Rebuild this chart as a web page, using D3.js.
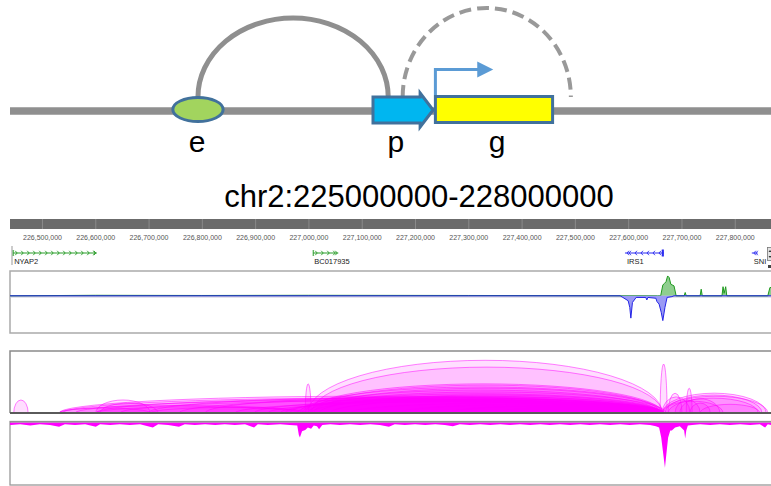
<!DOCTYPE html>
<html>
<head>
<meta charset="utf-8">
<script src="https://cdn.jsdelivr.net/npm/d3@7"></script>
<style>
  html, body { margin: 0; padding: 0; background: #fff; }
  svg { display: block; font-family: "Liberation Sans", Arial, Helvetica, sans-serif; }
</style>
</head>
<body>
<svg id="chart" width="771" height="486"></svg>
<script>
// ---------- data ----------
const regionLabel = "chr2:225000000-228000000";

// enhancer / promoter / gene schematic, positions on a nominal 0-1000 axis
const schematicElements = [
  { label: "e", start: 212, end: 282, labelAt: 246 },
  { label: "p", start: 477, end: 556, labelAt: 507 },
  { label: "g", start: 559, end: 713, labelAt: 640 }
];
const activeLoop = [247, 497];      // e -> p contact (solid)
const potentialLoop = [516, 737];   // p -> g contact (dashed)
const tssArrow = [559, 635];

// genome browser window (kb on chr2)
const viewKb = [226440, 227868];
const rulerTicksKb = [226500, 226600, 226700, 226800, 226900, 227000, 227100,
                      227200, 227300, 227400, 227500, 227600, 227700, 227800];

const genes = [
  { name: "NYAP2",    start: 226446, end: 226603, strand: "+", color: "#2a9d2a" },
  { name: "BC017935", start: 227009, end: 227056, strand: "+", color: "#2a9d2a" },
  { name: "IRS1",     start: 227594, end: 227667, strand: "-", color: "#2b2bf0", exon: [227663, 227667] },
  { name: "SNI",      start: 227832, end: 227843, strand: "-", color: "#2b2bf0" }
];

// stranded signal, [kb, value]
const plusSignal = [
  [226440, 0], [226600, 0.6], [226800, 0.4], [227000, 0.6], [227300, 0.4], [227655, 0],
  [227661, 0], [227665, 13], [227668, 15], [227671, 17], [227674, 24], [227677, 22],
  [227680, 14], [227686, 12], [227690, 0], [227705, 0], [227707, 4], [227709, 0],
  [227735, 0], [227737, 8], [227739, 0], [227776, 0], [227778, 11], [227780, 3],
  [227783, 11], [227785, 0], [227862, 0], [227866, 10], [227868, 10]
];
const minusSignal = [
  [226440, 0], [227585, 0], [227590, -2], [227600, -6], [227603, -14], [227605, -27],
  [227608, -8], [227615, -2], [227633, -2], [227635, -5], [227637, -2], [227652, -3],
  [227654, -7], [227658, -10], [227662, -20], [227665, -30], [227669, -14],
  [227673, -2], [227682, -1], [227686, 0], [227868, 0]
];

// chromatin loops: [anchor1 kb, anchor2 kb, score]
const loops = [
  [226999, 227664, 85], [227006, 227664, 74], [226994, 227664, 47], [227003, 227660, 45],
  [226984, 227667, 42], [227010, 227664, 40], [226988, 227658, 37], [226999, 227671, 34],
  [226979, 227664, 31], [227020, 227660, 29], [226965, 227665, 27], [227005, 227664, 26],
  [226956, 227664, 24], [227041, 227662, 23], [226947, 227669, 22],
  [226532, 227664, 27], [226538, 227662, 24], [226562, 227667, 21], [226601, 227664, 23],
  [226646, 227664, 20], [226699, 227664, 25], [226757, 227660, 22], [226806, 227664, 26],
  [226862, 227665, 18], [226898, 227664, 21], [226924, 227664, 19],
  [227078, 227664, 16], [227172, 227664, 14], [227266, 227664, 12], [227360, 227660, 10],
  [227453, 227664, 9], [227547, 227664, 8],
  [226447, 226474, 21], [226601, 226703, 21], [226609, 226718, 16], [226532, 226994, 12],
  [226601, 226984, 10], [226703, 226999, 9], [226532, 226703, 8],
  [226994, 227005, 47], [227660, 227673, 79], [227709, 227720, 40],
  [227664, 227859, 32], [227675, 227844, 24], [227669, 227851, 29], [227664, 227862, 27],
  [227675, 227701, 32], [227688, 227735, 21], [227665, 227778, 19], [227697, 227772, 23],
  [227716, 227754, 16], [227664, 227716, 26], [227735, 227847, 14]
];

// coverage (drawn downward), [kb, value]
const coverage = [
  [226440, 4], [226442, 4], [226459, 3], [226478, 5], [226496, 3], [226515, 4], [226532, 7],
  [226543, 3], [226562, 4], [226581, 3], [226601, 7], [226609, 3], [226628, 4], [226646, 3],
  [226665, 4], [226684, 3], [226708, 8], [226718, 3], [226737, 4], [226757, 7], [226768, 3],
  [226787, 4], [226806, 3], [226825, 4], [226843, 3], [226862, 4], [226881, 3], [226898, 8],
  [226905, 3], [226924, 4], [226947, 3], [226965, 4], [226979, 5], [226982, 20], [226984, 24],
  [226988, 14], [226994, 12], [226999, 8], [227005, 10], [227010, 5], [227016, 6], [227020, 11],
  [227026, 4], [227041, 3], [227059, 4], [227078, 3], [227097, 4], [227116, 3], [227134, 4],
  [227151, 7], [227162, 3], [227181, 4], [227200, 3], [227219, 4], [227238, 3], [227256, 4],
  [227271, 6], [227284, 3], [227303, 4], [227322, 3], [227341, 4], [227360, 3], [227378, 4],
  [227397, 3], [227416, 4], [227435, 3], [227453, 4], [227472, 3], [227491, 4], [227510, 3],
  [227528, 4], [227547, 3], [227566, 4], [227585, 3], [227603, 4], [227622, 3], [227641, 4],
  [227652, 6], [227658, 8], [227662, 24], [227665, 45], [227669, 73], [227673, 40],
  [227675, 24], [227679, 13], [227682, 13], [227688, 8], [227697, 6], [227705, 13],
  [227707, 26], [227709, 13], [227712, 5], [227720, 4], [227735, 3], [227754, 4], [227772, 3],
  [227791, 4], [227810, 3], [227829, 4], [227847, 3], [227857, 8], [227862, 3], [227868, 4]
];

// ---------- drawing ----------
const svg = d3.select("#chart");
const W = 771;

// schematic
const sx = d3.scaleLinear().domain([0, 1000]).range([10, 771]);
const schem = svg.append("g");
const lineY = 111;
const elemTop = 97, elemBottom = 123;
const outline = "#41719c";

schem.append("line")
  .attr("x1", sx(0)).attr("x2", sx(1000)).attr("y1", lineY).attr("y2", lineY)
  .attr("stroke", "#8f8f8f").attr("stroke-width", 7.5);

function loopPath(a, b, h) {
  const x1 = sx(a), x2 = sx(b);
  return `M${x1},${elemTop} A${(x2 - x1) / 2},${h} 0 0 1 ${x2},${elemTop}`;
}
schem.append("path").attr("d", loopPath(activeLoop[0], activeLoop[1], 79))
  .attr("fill", "none").attr("stroke", "#8f8f8f").attr("stroke-width", 5);
schem.append("path").attr("d", loopPath(potentialLoop[0], potentialLoop[1], 89))
  .attr("fill", "none").attr("stroke", "#999").attr("stroke-width", 4)
  .attr("stroke-dasharray", "12,6");

const [eEl, pEl, gEl] = schematicElements;
// enhancer
schem.append("ellipse")
  .attr("cx", (sx(eEl.start) + sx(eEl.end)) / 2).attr("cy", 109.5)
  .attr("rx", (sx(eEl.end) - sx(eEl.start)) / 2 - 1.5).attr("ry", 12)
  .attr("fill", "#a2d45e").attr("stroke", outline).attr("stroke-width", 3);
// promoter block arrow
{
  const x0 = sx(pEl.start), x2 = sx(pEl.end), xb = x2 - 13;
  const pts = [[x0, elemTop], [xb, elemTop], [xb, 93], [x2, 110], [xb, 127], [xb, elemBottom], [x0, elemBottom]];
  schem.append("path").attr("d", "M" + pts.map(p => p.join(",")).join("L") + "Z")
    .attr("fill", "#00b6f0").attr("stroke", outline).attr("stroke-width", 3)
    .attr("stroke-linejoin", "miter");
}
// gene body
schem.append("rect")
  .attr("x", sx(gEl.start)).attr("y", 96.5)
  .attr("width", sx(gEl.end) - sx(gEl.start)).attr("height", 26)
  .attr("fill", "#ffff00").attr("stroke", outline).attr("stroke-width", 3);
// transcription start arrow
{
  const xs = sx(tssArrow[0]), xe = sx(tssArrow[1]);
  schem.append("path").attr("d", `M${xs},95 L${xs},69.5 L${xe - 15},69.5`)
    .attr("fill", "none").attr("stroke", "#5b9bd5").attr("stroke-width", 3);
  schem.append("path").attr("d", `M${xe - 16},61.5 L${xe},69.5 L${xe - 16},77.5 Z`)
    .attr("fill", "#5b9bd5");
}
schem.selectAll("text.lab").data(schematicElements).join("text")
  .attr("class", "lab")
  .attr("x", d => sx(d.labelAt)).attr("y", 152)
  .attr("text-anchor", "middle").attr("font-size", 30).attr("fill", "#000")
  .text(d => d.label);

svg.append("text").attr("x", 419).attr("y", 207)
  .attr("text-anchor", "middle").attr("font-size", 31).attr("fill", "#000")
  .text(regionLabel);

// genome browser
const x = d3.scaleLinear().domain(viewKb).range([10, 771]);

// ruler
svg.append("rect").attr("x", 10).attr("y", 219).attr("width", W - 10).attr("height", 10).attr("fill", "#6b6b6b");
const axis = d3.axisBottom(x).tickValues(rulerTicksKb).tickSize(-10).tickPadding(6)
  .tickFormat(d => d3.format(",")(d * 1000));
const ax = svg.append("g").attr("transform", "translate(0,229)").call(axis);
ax.select(".domain").remove();
ax.selectAll(".tick line").attr("stroke", "#8a8a8a").attr("stroke-width", 1);
ax.selectAll(".tick text").attr("font-size", 7).attr("fill", "#555")
  .attr("font-family", "'Liberation Sans', Arial, sans-serif");

// gene track
const geneG = svg.append("g");
geneG.append("line").attr("x1", 12).attr("x2", 12).attr("y1", 246).attr("y2", 265)
  .attr("stroke", "#aaa").attr("stroke-width", 1.2);
const geneY = 253;
genes.forEach(gn => {
  const x1 = x(gn.start), x2 = x(gn.end);
  geneG.append("line").attr("x1", x1).attr("x2", x2).attr("y1", geneY).attr("y2", geneY)
    .attr("stroke", gn.color).attr("stroke-width", 1);
  const dir = gn.strand === "+" ? 1 : -1;
  const marks = [];
  for (let cx = x1 + 4; cx <= x2 - 1; cx += 6) marks.push(cx);
  if (dir > 0) marks.push(x2 - 1); else marks.unshift(x1 + 2);
  geneG.selectAll(null).data(marks).join("path")
    .attr("d", cx => `M${cx - 2 * dir},${geneY - 2.2} L${cx},${geneY} L${cx - 2 * dir},${geneY + 2.2}`)
    .attr("fill", "none").attr("stroke", gn.color).attr("stroke-width", 0.9);
  if (dir > 0) {
    geneG.append("line").attr("x1", x1).attr("x2", x1).attr("y1", geneY - 3).attr("y2", geneY + 3)
      .attr("stroke", gn.color).attr("stroke-width", 1);
  }
  if (gn.exon) {
    geneG.append("rect").attr("x", x(gn.exon[0])).attr("y", geneY - 3.5)
      .attr("width", Math.max(2, x(gn.exon[1]) - x(gn.exon[0]))).attr("height", 7)
      .attr("fill", gn.color);
  }
  geneG.append("text").attr("x", x1 + (gn.strand === "-" ? 2 : 1)).attr("y", 264)
    .attr("font-size", 7.5).attr("fill", "#222").text(gn.name);
});
// scroll control on the right edge
{
  const sc = svg.append("g");
  sc.append("rect").attr("x", 767.5).attr("y", 247.5).attr("width", 6).attr("height", 13)
    .attr("fill", "#e2e2e2").attr("stroke", "#777").attr("stroke-width", 0.8);
  sc.append("path").attr("d", "M768.5,252 L770,250 L771.5,252 Z M768.5,256 L770,258 L771.5,256 Z").attr("fill", "#333");
  sc.append("rect").attr("x", 768).attr("y", 265).attr("width", 3).attr("height", 3).attr("fill", "#444");
}

// track 1: stranded signal
const sigY = d3.scaleLinear().domain([-45, 30]).range([333, 271]);
const t1 = svg.append("g");
t1.append("clipPath").attr("id", "clip1").append("rect").attr("x", 10).attr("y", 271).attr("width", W).attr("height", 62);
t1.append("rect").attr("x", 10).attr("y", 271).attr("width", W + 10).attr("height", 62)
  .attr("fill", "#fff").attr("stroke", "#aaa").attr("stroke-width", 1.5);
const area1 = d3.area().x(d => x(d[0])).y0(sigY(0)).y1(d => sigY(d[1]));
const line1 = d3.line().x(d => x(d[0])).y(d => sigY(d[1]));
const t1c = t1.append("g").attr("clip-path", "url(#clip1)");
t1c.append("line").attr("x1", 10).attr("x2", W).attr("y1", sigY(0) + 0.8).attr("y2", sigY(0) + 0.8)
  .attr("stroke", "#c8c8d8").attr("stroke-width", 2);
t1c.append("path").datum(plusSignal).attr("d", area1).attr("fill", "#8fce8f");
t1c.append("path").datum(plusSignal).attr("d", line1).attr("fill", "none").attr("stroke", "#1f9a1f").attr("stroke-width", 1);
t1c.append("path").datum(minusSignal).attr("d", area1).attr("fill", "#9a9af5");
t1c.append("path").datum(minusSignal).attr("d", line1).attr("fill", "none").attr("stroke", "#2424e6").attr("stroke-width", 1);

// track 2: loops
const loopH = d3.scaleLinear().domain([0, 100]).range([0, 62]);
const base2 = 413;
const t2 = svg.append("g");
t2.append("clipPath").attr("id", "clip2").append("rect").attr("x", 10).attr("y", 351).attr("width", W).attr("height", 62);
t2.append("g").attr("clip-path", "url(#clip2)").selectAll("path").data(loops).join("path")
  .attr("d", d => {
    const x1 = x(d[0]), x2 = x(d[1]);
    return `M${x1},${base2} A${(x2 - x1) / 2},${loopH(d[2])} 0 0 1 ${x2},${base2} Z`;
  })
  .attr("fill", "#ff00ff").attr("fill-opacity", 0.13)
  .attr("stroke", "#ff00ff").attr("stroke-opacity", 0.55).attr("stroke-width", 0.9);
t2.append("path").attr("d", `M${W},351 L10,351 L10,${base2}`).attr("fill", "none").attr("stroke", "#8a8a8a").attr("stroke-width", 1.5);
t2.append("line").attr("x1", 10).attr("x2", W).attr("y1", base2).attr("y2", base2).attr("stroke", "#5a5a5a").attr("stroke-width", 2);

// track 3: coverage
const covY = d3.scaleLinear().domain([0, 100]).range([422.5, 484.5]);
const t3 = svg.append("g");
t3.append("rect").attr("x", 10).attr("y", 421.5).attr("width", W + 10).attr("height", 63.5)
  .attr("fill", "#fff").attr("stroke", "#999").attr("stroke-width", 1.3);
t3.append("path").datum(coverage)
  .attr("d", d3.area().x(d => x(d[0])).y0(covY(0)).y1(d => covY(d[1])))
  .attr("fill", "#ff00ff");
t3.append("line").attr("x1", 10).attr("x2", W).attr("y1", 422).attr("y2", 422).attr("stroke", "#8a8a8a").attr("stroke-width", 1);
</script>
</body>
</html>
